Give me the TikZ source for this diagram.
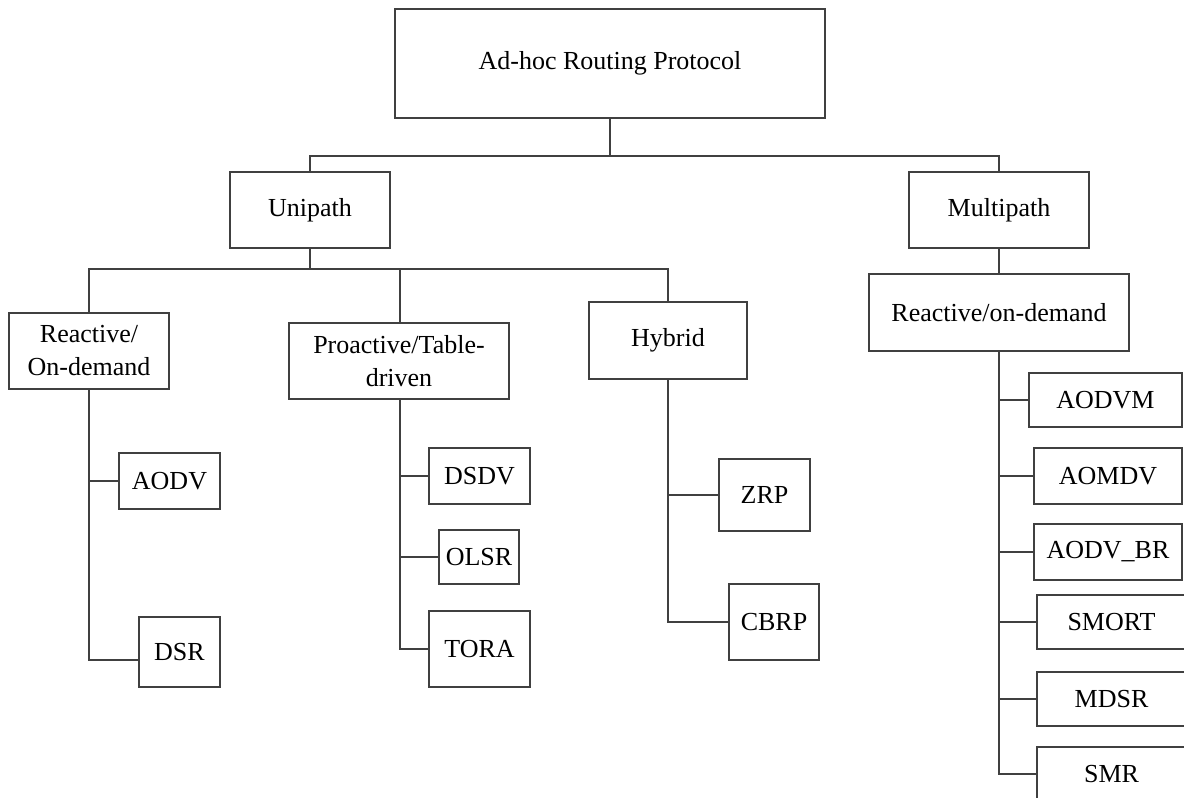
\documentclass[tikz,border=0pt]{standalone}
\usepackage{fontspec}
\setmainfont{Liberation Serif}
\definecolor{edge}{HTML}{404040}
\tikzset{
  box/.style={draw=edge, line width=1.8pt, inner sep=0pt, align=center,
    font=\fontsize{26}{33}\selectfont, text=black},
  link/.style={draw=edge, line width=1.5pt}
}
\newcommand{\boxat}[5]{\node[box, minimum width=#3, minimum height=#4] (#1) at #2 {#5};}
\begin{document}
\begin{tikzpicture}[x=1pt, y=-1pt]
\useasboundingbox (0,0) rectangle (1184,798);
\clip (0,0) rectangle (1184,798);
\fill[white] (0,0) rectangle (1184,798);

% top level
\boxat{root}{(610,63.5)}{430pt}{109pt}{Ad-hoc Routing Protocol}
\boxat{uni}{(310,210)}{160pt}{76pt}{Unipath}
\boxat{multi}{(999,210)}{180pt}{76pt}{Multipath}

% unipath categories
\boxat{react}{(89,351)}{160pt}{76pt}{Reactive/\\On-demand}
\boxat{proact}{(399,361)}{220pt}{76pt}{Proactive/Table-\\driven}
\boxat{hybrid}{(668,340.5)}{158pt}{77pt}{Hybrid}

% multipath category
\boxat{mreact}{(999,312.5)}{260pt}{77pt}{Reactive/on-demand}

% reactive protocols
\boxat{aodv}{(169.5,481)}{101pt}{56pt}{AODV}
\boxat{dsr}{(179.5,652)}{81pt}{70pt}{DSR}

% proactive protocols
\boxat{dsdv}{(479.5,476)}{101pt}{56pt}{DSDV}
\boxat{olsr}{(479,557)}{80pt}{54pt}{OLSR}
\boxat{tora}{(479.5,649)}{101pt}{76pt}{TORA}

% hybrid protocols
\boxat{zrp}{(764.5,495)}{91pt}{72pt}{ZRP}
\boxat{cbrp}{(774,622)}{90pt}{76pt}{CBRP}

% multipath protocols
\boxat{aodvm}{(1105.5,400)}{153pt}{54pt}{AODVM}
\boxat{aomdv}{(1108,476)}{148pt}{56pt}{AOMDV}
\boxat{aodvbr}{(1108,552)}{148pt}{56pt}{AODV\_BR}
\boxat{smort}{(1111.5,622)}{149pt}{54pt}{SMORT}
\boxat{mdsr}{(1111.5,699)}{149pt}{54pt}{MDSR}
\boxat{smr}{(1111.5,774)}{149pt}{54pt}{SMR}

% bus and spine coordinates
\coordinate (bus1) at (610,156);
\coordinate (bus2) at (310,269);
\coordinate (ptop) at ([xshift=1pt]proact.north);
\coordinate (pbot) at ([xshift=1pt]proact.south);

% root to unipath / multipath
\draw[link] (root.south) -- (bus1);
\draw[link] (uni.north) |- (bus1) -| (multi.north);

% unipath to its categories
\draw[link] (uni.south) -- (bus2);
\draw[link] (react.north) |- (bus2) -| (hybrid.north);
\draw[link] (ptop) -- (ptop |- bus2);

% multipath to reactive/on-demand
\draw[link] (multi.south) -- (mreact.north);

% reactive branch
\draw[link] (react.south) |- ([yshift=-8pt]dsr.west);
\draw[link] (aodv.west) -- (aodv.west -| react.south);

% proactive branch
\draw[link] (pbot) |- (tora.west);
\draw[link] (dsdv.west) -- (dsdv.west -| pbot);
\draw[link] (olsr.west) -- (olsr.west -| pbot);

% hybrid branch
\draw[link] (hybrid.south) |- (cbrp.west);
\draw[link] (zrp.west) -- (zrp.west -| hybrid.south);

% multipath branch
\draw[link] (mreact.south) |- (smr.west);
\foreach \n in {aodvm,aomdv,aodvbr,smort,mdsr}
  \draw[link] (\n.west) -- (\n.west -| mreact.south);
\end{tikzpicture}
\end{document}
